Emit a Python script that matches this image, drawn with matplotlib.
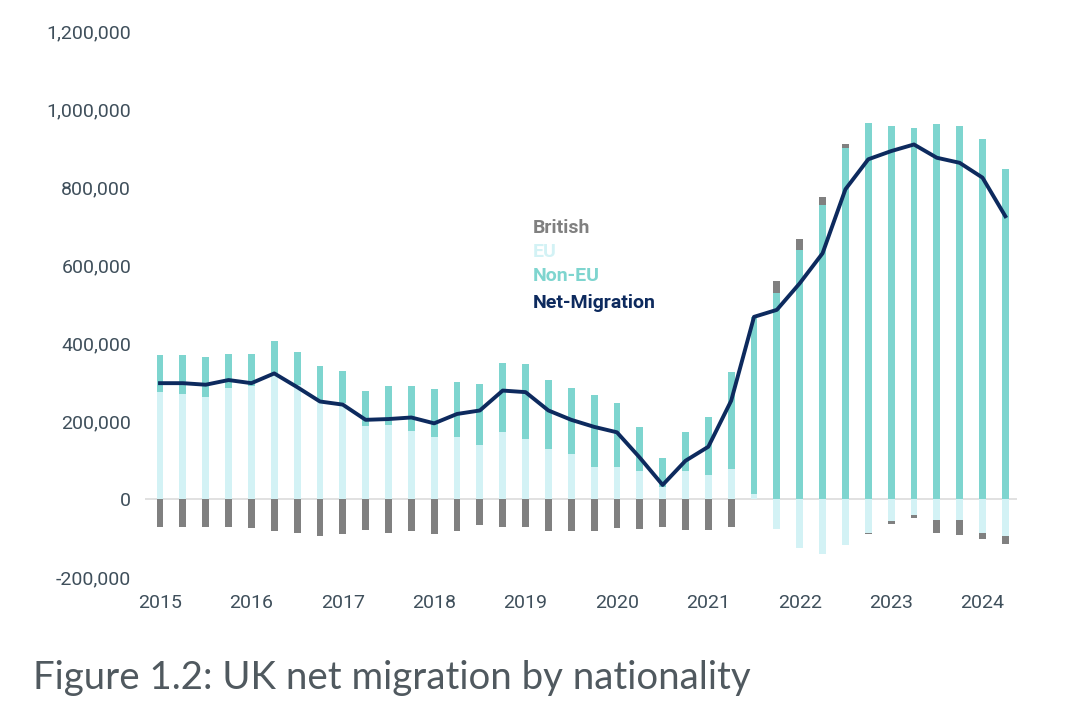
import matplotlib.pyplot as plt
import numpy as np

# quarterly values, 2015 Q1 to 2024 Q2 (thousands)
quarters = np.arange(2015, 2024.5, 0.25)
eu = [275, 268, 262, 285, 290, 320, 292, 252, 245, 188, 190, 175, 160, 160, 139, 171,
      155, 128, 115, 81, 81, 72, 32, 72, 61, 76, 13, -77, -125, -140, -119, -86,
      -56, -40, -55, -55, -88, -95]
non_eu = [95, 102, 103, 88, 83, 85, 86, 90, 84, 90, 100, 115, 122, 141, 155, 177,
          191, 178, 170, 185, 165, 112, 73, 99, 149, 249, 454, 529, 639, 753, 901, 963,
          957, 951, 961, 957, 924, 845]
british = [-71, -71, -71, -71, -75, -83, -88, -94, -91, -79, -88, -83, -91, -83, -66, -71,
           -72, -83, -83, -83, -75, -76, -71, -80, -80, -71, 0, 31, 28, 21, 8, -5,
           -8, -8, -33, -37, -15, -21]
net = [297, 297, 293, 305, 297, 322, 287, 250, 242, 203, 205, 209, 194, 218, 227, 278,
       274, 227, 203, 185, 171, 106, 36, 98, 134, 252, 467, 485, 553, 630, 794, 871,
       892, 909, 875, 862, 824, 725]
years = list(range(2015, 2025))
yticks = list(range(-200000, 1200001, 200000))

names = ['British', 'EU', 'Non-EU', 'Net-Migration']
colors = ['#808080', '#d3f2f5', '#7ed5cf', '#0d2a5e']
text_col = '#3f4f5b'

plt.rcParams['font.family'] = ['Roboto', 'DejaVu Sans']

fig = plt.figure(figsize=(10.79, 7.19), dpi=100)
ax = fig.add_axes([0.1344, 0.1975, 0.808, 0.7594])

w = 0.075
pos_base = np.zeros(len(quarters))
neg_base = np.zeros(len(quarters))
for vals, c in [(eu, colors[1]), (non_eu, colors[2]), (british, colors[0])]:
    v = np.array(vals) * 1000.0
    pos = np.clip(v, 0, None)
    neg = np.clip(v, None, 0)
    ax.bar(quarters, pos, w, bottom=pos_base, color=c, zorder=2)
    ax.bar(quarters, neg, w, bottom=neg_base, color=c, zorder=2)
    pos_base += pos
    neg_base += neg

ax.plot(quarters, np.array(net) * 1000.0, color=colors[3], lw=2.8, zorder=4,
        solid_joinstyle='round')
ax.axhline(0, color='#dcdcdc', lw=1.2, zorder=1)

ax.set_xlim(2014.836, 2024.376)
ax.set_ylim(-200000, 1200000)
ax.set_xticks(years)
ax.set_xticklabels([str(y) for y in years])
ax.set_yticks(yticks)
ax.set_yticklabels([f'{t:,}' for t in yticks])
ax.tick_params(length=0, labelsize=14, labelcolor=text_col)
ax.tick_params(axis='y', pad=10)
ax.tick_params(axis='x', pad=12)
for s in ax.spines.values():
    s.set_visible(False)

# text legend
leg_y = [0.683, 0.650, 0.616, 0.579]
for name, c, y in zip(names, colors, leg_y):
    fig.text(0.494, y, name, color=c, fontsize=14, fontweight='bold', va='center')

fig.text(0.031, 0.042, 'Figure 1.2: UK net migration by nationality',
         family=['Lato', 'DejaVu Sans'], fontsize=27.6, color='#50595f', va='baseline')

fig.savefig('out.png', dpi=100)
